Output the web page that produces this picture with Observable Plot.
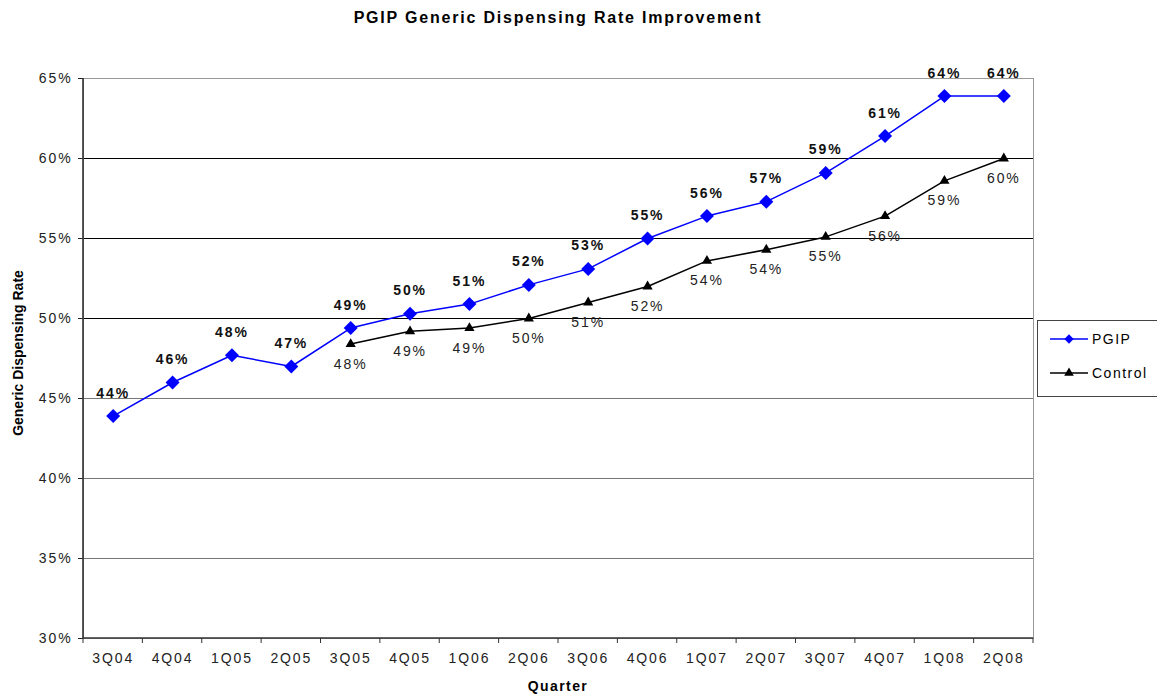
<!DOCTYPE html>
<html>
<head>
<meta charset="utf-8">
<script src="https://cdn.jsdelivr.net/npm/d3@7"></script>
<script src="https://cdn.jsdelivr.net/npm/@observablehq/plot@0.6"></script>
<style>
  html, body { margin: 0; padding: 0; background: #fff; }
  body { font-family: "Liberation Sans", Arial, sans-serif; color: #000; }
  #wrap { position: relative; width: 1157px; height: 694px; overflow: hidden; }
  #title { position: absolute; left: 83px; width: 950px; top: 9px; text-align: center;
           font-weight: bold; font-size: 16px; letter-spacing: 1.8px; }
  #chart { position: absolute; left: 0; top: 38px; }
  #ylabel { position: absolute; left: 18px; top: 353px; transform: translate(-50%, -50%) rotate(-90deg);
            font-weight: bold; font-size: 14px; white-space: nowrap; }
  #xlabel { position: absolute; left: 558px; top: 686px; transform: translate(-50%, -50%);
            font-weight: bold; font-size: 14px; letter-spacing: 1.4px; white-space: nowrap; }
  #legend { position: absolute; left: 1037px; top: 320px; width: 125px; height: 77px;
            border: 1px solid #444; box-sizing: border-box; }
  #legend .item { position: absolute; left: 12px; display: flex; align-items: center;
                  font-size: 14px; letter-spacing: 1.5px; white-space: nowrap; }
  #legend svg { display: block; margin-right: 4px; }
</style>
</head>
<body>
<div id="wrap">
  <div id="title">PGIP Generic Dispensing Rate Improvement</div>
  <div id="chart"></div>
  <div id="ylabel">Generic Dispensing Rate</div>
  <div id="xlabel">Quarter</div>
  <div id="legend"></div>
</div>
<script>
// ---- data ----
const quarters = ["3Q04","4Q04","1Q05","2Q05","3Q05","4Q05","1Q06","2Q06","3Q06","4Q06","1Q07","2Q07","3Q07","4Q07","1Q08","2Q08"];
const pgipValues = [43.9, 46.0, 47.7, 47.0, 49.4, 50.3, 50.9, 52.1, 53.1, 55.0, 56.4, 57.3, 59.1, 61.4, 63.9, 63.9];
const controlQuarters = ["3Q05","4Q05","1Q06","2Q06","3Q06","4Q06","1Q07","2Q07","3Q07","4Q07","1Q08","2Q08"];
const controlValues = [48.4, 49.2, 49.4, 50.0, 51.0, 52.0, 53.6, 54.3, 55.1, 56.4, 58.6, 60.0];
const yTicks = [30, 35, 40, 45, 50, 55, 60, 65];
const seriesNames = ["PGIP", "Control"];
const seriesColors = ["#0000ff", "#000000"];

const pgip = quarters.map((q, i) => ({quarter: q, value: pgipValues[i]}));
const control = controlQuarters.map((q, i) => ({quarter: q, value: controlValues[i]}));

// tick marks at the band boundaries, derived from the x scale
function bandEdgeTicks(index, scales, values, dimensions) {
  const xs = scales.x;
  const [r0, r1] = xs.range();
  const n = xs.domain().length;
  const edges = d3.range(n + 1).map(i => r0 + i * (r1 - r0) / n);
  const yBase = dimensions.height - dimensions.marginBottom;
  const g = d3.create("svg:g").attr("stroke", "#333").attr("stroke-width", 1);
  g.selectAll("line.t").data(edges).join("line")
    .attr("x1", d => d).attr("x2", d => d)
    .attr("y1", yBase).attr("y2", yBase + 5);
  // axis lines (left and bottom)
  g.append("line").attr("x1", r0).attr("x2", r0)
    .attr("y1", dimensions.marginTop).attr("y2", yBase).attr("stroke-width", 1.6);
  g.append("line").attr("x1", r0).attr("x2", r1)
    .attr("y1", yBase).attr("y2", yBase).attr("stroke-width", 1.6);
  return g.node();
}

const chart = Plot.plot({
  width: 1157,
  height: 656,
  marginTop: 40,
  marginBottom: 56,
  marginLeft: 83,
  marginRight: 124,
  style: {fontFamily: '"Liberation Sans", Arial, sans-serif', fontSize: "14px", color: "#000",
          background: "transparent", letterSpacing: "1.9px", overflow: "visible"},
  x: {type: "band", domain: quarters, padding: 0, round: false, label: null},
  y: {domain: [30, 65], label: null},
  marks: [
    Plot.ruleY(yTicks.filter(v => v >= 50 && v < 65), {stroke: "#000", strokeWidth: 1}),
    Plot.ruleY(yTicks.filter(v => v > 30 && v < 50), {stroke: "#777", strokeWidth: 1}),
    Plot.frame({stroke: "#999"}),
    Plot.axisY({ticks: yTicks, tickFormat: d => d + "%", tickSize: 5, tickPadding: 6,
                color: "#222", fontSize: 14, label: null}),
    Plot.axisX({tickSize: 0, tickPadding: 15, color: "#222", fontSize: 14, label: null}),
    bandEdgeTicks,
    Plot.line(control, {x: "quarter", y: "value", stroke: seriesColors[1], strokeWidth: 1.5}),
    Plot.line(pgip, {x: "quarter", y: "value", stroke: seriesColors[0], strokeWidth: 1.5}),
    Plot.dot(control, {x: "quarter", y: "value", symbol: "triangle", r: 3.8, fill: seriesColors[1], stroke: null}),
    Plot.dot(pgip, {x: "quarter", y: "value", symbol: "diamond2", r: 6.3, fill: seriesColors[0], stroke: null}),
    Plot.text(pgip, {x: "quarter", y: "value", text: d => Math.round(d.value) + "%", dy: -23,
                     fontWeight: "bold", fontSize: 14, fill: "#111"}),
    Plot.text(control, {x: "quarter", y: "value", text: d => Math.round(d.value) + "%", dy: 20,
                        fontSize: 14, fill: "#222"})
  ]
});
document.getElementById("chart").appendChild(chart);

// legend
const legend = d3.select("#legend");
const symbols = [d3.symbolDiamond2, d3.symbolTriangle];
const symSizes = [55, 40];
seriesNames.forEach((name, i) => {
  const item = legend.append("div").attr("class", "item").style("top", (i === 0 ? 10 : 44) + "px");
  const s = item.append("svg").attr("width", 38).attr("height", 16);
  s.append("line").attr("x1", 0).attr("x2", 38).attr("y1", 8).attr("y2", 8)
    .attr("stroke", seriesColors[i]).attr("stroke-width", 1.5);
  s.append("path").attr("transform", "translate(19,8)")
    .attr("d", d3.symbol(symbols[i], symSizes[i])()).attr("fill", seriesColors[i]);
  item.append("span").text(name);
});
</script>
</body>
</html>
